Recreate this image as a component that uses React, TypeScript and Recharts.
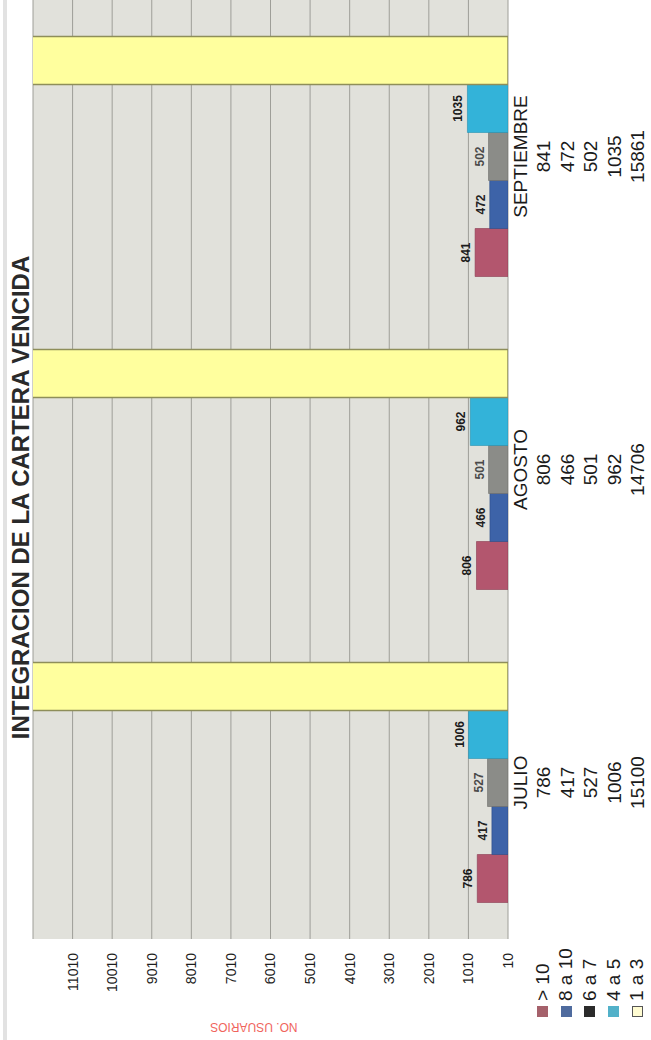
import React from 'react';
import { BarChart, Bar, XAxis, YAxis, CartesianGrid, LabelList, Legend } from 'recharts';

const categories = ['JULIO', 'AGOSTO', 'SEPTIEMBRE'];
const seriesNames = ['> 10', '8 a 10', '6 a 7', '4 a 5', '1 a 3'];
const mas10 = [786, 806, 841];
const de8a10 = [417, 466, 472];
const de6a7 = [527, 501, 502];
const de4a5 = [1006, 962, 1035];
const de1a3 = [15100, 14706, 15861];
const valueTicks = [10, 1010, 2010, 3010, 4010, 5010, 6010, 7010, 8010, 9010, 10010, 11010, 12010];
const valueDomain = [10, 12010];
const title = 'INTEGRACION DE LA CARTERA VENCIDA';
const axisTitle = 'NO. USUARIOS';

const seriesValues = [mas10, de8a10, de6a7, de4a5, de1a3];
const seriesKeys = ['s0', 's1', 's2', 's3', 's4'];
const barColors = ['#b3566e', '#3d63a8', '#8b8c88', '#33b3d9', '#ffff9e'];
const barStrokes = ['#8a3a50', '#2c4c88', '#6c6c68', '#2590b0', '#8e8e5a'];
const legendColors = ['#a5616b', '#4f6b9e', '#2b2b2b', '#52b1c9', '#fffcd2'];
const labelFills = ['#1a1a1a', '#222222', '#4a4a4a', '#1a1a1a'];

const data = categories.map((name, i) => {
  const row: any = { name };
  seriesKeys.forEach((k, j) => {
    row[k] = seriesValues[j][i];
  });
  return row;
});

const FONT = '"Liberation Sans", Arial, sans-serif';

const TableTick = (props: any) => {
  const { x, y, payload } = props;
  const i = categories.indexOf(payload.value);
  return (
    <g>
      <text x={x} y={y + 4} textAnchor="middle" dominantBaseline="central" fontSize={19} fill="#1a1a1a" fontFamily={FONT}>
        {payload.value}
      </text>
      {seriesValues.map((arr, j) => (
        <text key={j} x={x} y={y + 27.5 + j * 23.6} textAnchor="middle" dominantBaseline="central" fontSize={19} fill="#1a1a1a" fontFamily={FONT}>
          {arr[i]}
        </text>
      ))}
    </g>
  );
};

const LegendRows = () => (
  <div style={{ fontFamily: FONT, fontSize: 19, color: '#1a1a1a' }}>
    {seriesNames.map((n, j) => (
      <div key={n} style={{ height: 23.6, display: 'flex', alignItems: 'center', whiteSpace: 'nowrap' }}>
        <span
          style={{
            display: 'inline-block',
            width: 11,
            height: 11,
            background: legendColors[j],
            border: j === 4 ? '1px solid #555' : 'none',
            boxSizing: 'border-box',
            marginRight: 5,
          }}
        />
        <span>{n}</span>
      </div>
    ))}
  </div>
);

const AxisTitle = (props: any) => {
  const vb = props.viewBox || { x: 0, y: 0, width: 0, height: 0 };
  const cx = vb.x + 13;
  const cy = vb.y + vb.height * 0.465;
  return (
    <text x={cx} y={cy} transform={`rotate(-90, ${cx}, ${cy})`} textAnchor="middle" dominantBaseline="central" fontSize={12} fill="#f0645c" fontFamily={FONT}>
      {axisTitle}
    </text>
  );
};

export default function App() {
  return (
    <div style={{ position: 'absolute', left: 0, top: 0, width: 651, height: 1040, overflow: 'hidden', background: '#ffffff' }}>
      <div
        style={{
          position: 'absolute',
          left: 0,
          top: 0,
          width: 1040,
          height: 651,
          transformOrigin: '0 0',
          transform: 'translate(0px, 1040px) rotate(-90deg)',
          fontFamily: FONT,
        }}
      >
        <div style={{ position: 'absolute', left: 0, top: 3, width: 1040, height: 4, background: '#e2e2e2' }} />
        <div
          style={{
            position: 'absolute',
            left: 0,
            top: 7,
            width: 1085,
            textAlign: 'center',
            fontSize: 24,
            fontWeight: 'bold',
            color: '#2a2a2a',
            lineHeight: '28px',
            whiteSpace: 'nowrap',
            zIndex: 2,
          }}
        >
          {title}
        </div>
        <BarChart
          width={1040}
          height={651}
          data={data}
          margin={{ top: 33, right: 0, bottom: 13, left: 0 }}
          barGap={0}
          barCategoryGap={36.5}
          style={{ fontFamily: FONT }}
        >
          <CartesianGrid vertical={false} fill="#e1e1db" stroke="#9e9e98" strokeWidth={1} />
          <XAxis dataKey="name" axisLine={false} tickLine={false} height={130} tick={<TableTick />} interval={0} />
          <YAxis
            width={101}
            domain={valueDomain}
            ticks={valueTicks}
            allowDataOverflow
            axisLine={false}
            tickLine={false}
            tickMargin={8}
            tick={{ fontSize: 14, fill: '#1e1e1e', fontFamily: FONT }}
            tickFormatter={(v: number) => (v === valueDomain[1] ? '' : String(v))}
            label={{ content: <AxisTitle /> }}
          />
          <Legend
            layout="horizontal"
            verticalAlign="middle"
            align="center"
            content={<LegendRows />}
            wrapperStyle={{ left: 23, top: 531, width: 80, height: 120 }}
          />
          {seriesKeys.map((k, j) => (
            <Bar
              key={k}
              dataKey={k}
              name={seriesNames[j]}
              fill={barColors[j]}
              stroke={barStrokes[j]}
              strokeWidth={j === 4 ? 1.5 : 0.6}
              isAnimationActive={false}
            >
              {j < 4 ? (
                <LabelList
                  dataKey={k}
                  position="top"
                  offset={5}
                  fontSize={12}
                  fontWeight="bold"
                  fill={labelFills[j]}
                  fontFamily={FONT}
                />
              ) : null}
            </Bar>
          ))}
        </BarChart>
      </div>
    </div>
  );
}
